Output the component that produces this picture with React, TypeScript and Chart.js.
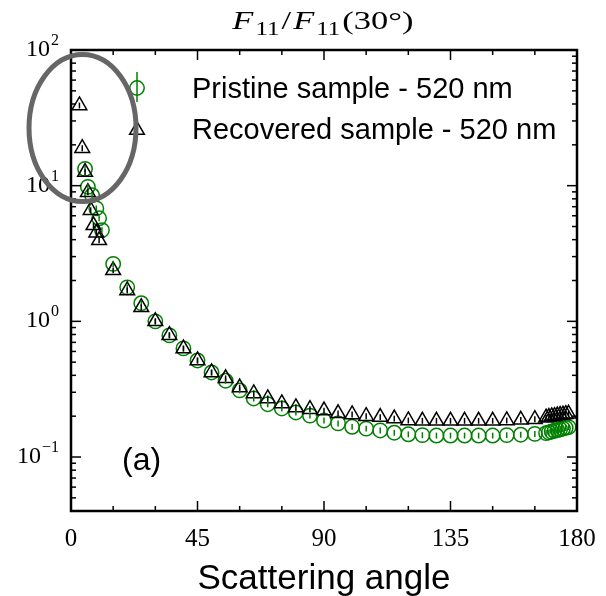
import React, { useEffect, useRef } from 'react';
import { Chart, registerables } from 'chart.js';

Chart.register(...registerables);

// ---------- data ----------
const pristineAngles = [5, 6, 7.5, 9, 10, 11, 15, 20, 25, 30, 35, 40, 45, 50, 55, 60, 65, 70, 75, 80, 85, 90, 95, 100, 105, 110, 115, 120, 125, 130, 135, 140, 145, 150, 155, 160, 165, 169, 170, 171, 172, 173, 174, 175, 176, 177];
const pristineValues = [13.3, 9.8, 8.5, 6.8, 5.75, 4.7, 2.65, 1.78, 1.36, 1.0, 0.788, 0.632, 0.515, 0.42, 0.365, 0.31, 0.27, 0.245, 0.228, 0.213, 0.202, 0.186, 0.177, 0.167, 0.162, 0.157, 0.151, 0.147, 0.145, 0.144, 0.144, 0.144, 0.144, 0.144, 0.145, 0.146, 0.148, 0.150, 0.152, 0.154, 0.156, 0.158, 0.160, 0.162, 0.164, 0.166];

const recoveredAngles = [3, 4, 5, 6, 7, 8, 9, 10, 15, 20, 25, 30, 35, 40, 45, 50, 55, 60, 65, 70, 75, 80, 85, 90, 95, 100, 105, 110, 115, 120, 125, 130, 135, 140, 145, 150, 155, 160, 165, 169, 170, 171, 172, 173, 174, 175, 176, 177];
const recoveredValues = [39, 18.9, 12.6, 8.95, 6.6, 5.1, 4.5, 3.96, 2.38, 1.69, 1.27, 1.0, 0.79, 0.63, 0.515, 0.42, 0.38, 0.325, 0.294, 0.27, 0.248, 0.232, 0.225, 0.22, 0.21, 0.206, 0.2, 0.197, 0.192, 0.186, 0.185, 0.185, 0.185, 0.185, 0.185, 0.185, 0.186, 0.188, 0.19, 0.195, 0.197, 0.199, 0.2, 0.202, 0.204, 0.205, 0.207, 0.208];

const relativeError = [0.05, 0.05];

const xMajorTicks = [0, 45, 90, 135, 180];
const xMinorTicks = [15, 30, 60, 75, 105, 120, 150, 165];
const xTickLabels = ['0', '45', '90', '135', '180'];
const yDecadeExponents = [-1, 0, 1, 2];
const yDecadeLabels = ['\u22121', '0', '1', '2'];
const seriesLabels = ['Pristine sample - 520 nm', 'Recovered sample - 520 nm'];
const xAxisTitle = 'Scattering angle';
const panelLabel = '(a)';

const X_MIN = 0, X_MAX = 180, Y_MIN = 0.04, Y_MAX = 100;
const GREEN = '#008000';
const BLACK = '#000000';

const SERIF = '"Liberation Serif", "DejaVu Serif", serif';
const SANS = '"Liberation Sans", Arial, sans-serif';

function triPath(ctx: CanvasRenderingContext2D, x: number, y: number, r: number) {
  let rad = 0;
  const T = (2 * Math.PI) / 3;
  ctx.beginPath();
  ctx.moveTo(x + Math.sin(rad) * r, y - Math.cos(rad) * r);
  rad += T;
  ctx.lineTo(x + Math.sin(rad) * r, y - Math.cos(rad) * r);
  rad += T;
  ctx.lineTo(x + Math.sin(rad) * r, y - Math.cos(rad) * r);
  ctx.closePath();
}

const decorPlugin = {
  id: 'decor',
  afterDatasetsDraw(chart: any) {
    const { ctx, scales } = chart;
    const xs = scales.x, ys = scales.y;
    chart.data.datasets.forEach((ds: any, i: number) => {
      const e = relativeError[i];
      ctx.save();
      ctx.strokeStyle = ds.borderColor;
      ctx.lineWidth = 1.5;
      ds.data.forEach((p: any) => {
        const px = xs.getPixelForValue(p.x);
        ctx.beginPath();
        ctx.moveTo(px, ys.getPixelForValue(p.y * (1 - e)));
        ctx.lineTo(px, ys.getPixelForValue(p.y * (1 + e)));
        ctx.stroke();
      });
      ctx.restore();
    });
  },
  afterDraw(chart: any) {
    const { ctx, chartArea, scales } = chart;
    const { left, right, top, bottom } = chartArea;
    const xs = scales.x, ys = scales.y;
    ctx.save();
    ctx.strokeStyle = '#000';
    ctx.lineWidth = 2.5;
    ctx.strokeRect(left, top, right - left, bottom - top);
    ctx.lineWidth = 1.5;
    const tick = (x1: number, y1: number, x2: number, y2: number) => {
      ctx.beginPath(); ctx.moveTo(x1, y1); ctx.lineTo(x2, y2); ctx.stroke();
    };
    xMajorTicks.forEach((v) => {
      const px = xs.getPixelForValue(v);
      tick(px, bottom, px, bottom - 10);
      tick(px, top, px, top + 10);
    });
    xMinorTicks.forEach((v) => {
      const px = xs.getPixelForValue(v);
      tick(px, bottom, px, bottom - 5);
      tick(px, top, px, top + 5);
    });
    for (let k = -2; k <= 2; k++) {
      for (let d = 1; d <= 9; d++) {
        const v = d * Math.pow(10, k);
        if (v < Y_MIN || v > Y_MAX) continue;
        const py = ys.getPixelForValue(v);
        const len = d === 1 ? 10 : 5;
        tick(left, py, left + len, py);
        tick(right, py, right - len, py);
      }
    }
    // x tick labels
    ctx.fillStyle = '#000';
    ctx.font = `25px ${SERIF}`;
    ctx.textAlign = 'center';
    ctx.textBaseline = 'alphabetic';
    xMajorTicks.forEach((v, i) => {
      ctx.fillText(xTickLabels[i], xs.getPixelForValue(v), bottom + 35);
    });
    // y tick labels 10^k
    yDecadeExponents.forEach((k, i) => {
      const py = ys.getPixelForValue(Math.pow(10, k));
      ctx.font = `24px ${SERIF}`;
      const wBase = ctx.measureText('10').width;
      ctx.font = `16px ${SERIF}`;
      const wSup = ctx.measureText(yDecadeLabels[i]).width;
      const xEnd = left - 12;
      const xStart = xEnd - wBase - wSup - 1;
      ctx.textAlign = 'left';
      ctx.font = `24px ${SERIF}`;
      ctx.fillText('10', xStart, py + 6);
      ctx.font = `16px ${SERIF}`;
      ctx.fillText(yDecadeLabels[i], xStart + wBase + 1, py - 5);
    });
    // title F11/F11(30°), horizontally widened like the reference
    const big = `25px ${SERIF}`;
    const bigIt = `italic 25px ${SERIF}`;
    const sub = `18px ${SERIF}`;
    const pieces: [string, string, number][] = [
      ['F', bigIt, 0], ['11', sub, 6], ['/', big, 0], ['F', bigIt, 0], ['11', sub, 6], ['(30\u00b0)', big, 0],
    ];
    let total = 0;
    const widths = pieces.map(([t, f]) => { ctx.font = f; const w = ctx.measureText(t).width + 1.5; total += w; return w; });
    const sx = 1.38;
    ctx.save();
    ctx.translate((left + right) / 2 - (total * sx) / 2, 0);
    ctx.scale(sx, 1);
    let tx = 0;
    ctx.textAlign = 'left';
    pieces.forEach(([t, f, dy], i) => {
      ctx.font = f;
      ctx.fillText(t, tx, 29 + dy);
      tx += widths[i];
    });
    ctx.restore();
    // x axis title
    ctx.font = `35px ${SANS}`;
    ctx.textAlign = 'center';
    ctx.fillText(xAxisTitle, (left + right) / 2, 589);
    // panel label
    ctx.textAlign = 'left';
    ctx.font = `32px ${SANS}`;
    ctx.fillText(panelLabel, 122, 470);
    // legend
    const lx = 137;
    ctx.font = `29px ${SANS}`;
    ctx.textAlign = 'left';
    ctx.fillText(seriesLabels[0], 192, 98);
    ctx.fillText(seriesLabels[1], 192, 139);
    ctx.lineWidth = 1.5;
    ctx.strokeStyle = GREEN;
    ctx.beginPath(); ctx.arc(lx, 88, 7.2, 0, Math.PI * 2); ctx.stroke();
    tick(lx, 72, lx, 102);
    ctx.strokeStyle = BLACK;
    triPath(ctx, lx, 130, 8.5); ctx.stroke();
    // gray ellipse annotation
    ctx.strokeStyle = '#666666';
    ctx.lineWidth = 5;
    ctx.beginPath();
    ctx.ellipse(82.5, 128, 53.5, 73.5, 0, 0, Math.PI * 2);
    ctx.stroke();
    ctx.restore();
  },
};

export default function App() {
  const ref = useRef<HTMLCanvasElement | null>(null);
  useEffect(() => {
    if (!ref.current) return;
    const chart = new Chart(ref.current, {
      type: 'scatter',
      data: {
        datasets: [
          {
            label: seriesLabels[0],
            data: pristineAngles.map((a, i) => ({ x: a, y: pristineValues[i] })),
            pointStyle: 'circle',
            pointRadius: 7.2,
            borderColor: GREEN,
            backgroundColor: 'rgba(0,0,0,0)',
            pointBorderWidth: 1.5,
            showLine: false,
            order: 2,
          },
          {
            label: seriesLabels[1],
            data: recoveredAngles.map((a, i) => ({ x: a, y: recoveredValues[i] })),
            pointStyle: 'triangle',
            pointRadius: 8.5,
            borderColor: BLACK,
            backgroundColor: 'rgba(0,0,0,0)',
            pointBorderWidth: 1.5,
            showLine: false,
            order: 1,
          },
        ],
      },
      options: {
        responsive: false,
        animation: false,
        layout: { padding: { left: 71, top: 50, right: 29, bottom: 85 } },
        plugins: { legend: { display: false }, title: { display: false }, tooltip: { enabled: false } },
        scales: {
          x: { type: 'linear', min: X_MIN, max: X_MAX, display: false },
          y: { type: 'logarithmic', min: Y_MIN, max: Y_MAX, display: false },
        },
      },
      plugins: [decorPlugin],
    });
    return () => chart.destroy();
  }, []);
  return (
    <div style={{ position: 'absolute', left: 0, top: 0, width: 606, height: 596, background: '#fff' }}>
      <canvas ref={ref} width={606} height={596} />
    </div>
  );
}
